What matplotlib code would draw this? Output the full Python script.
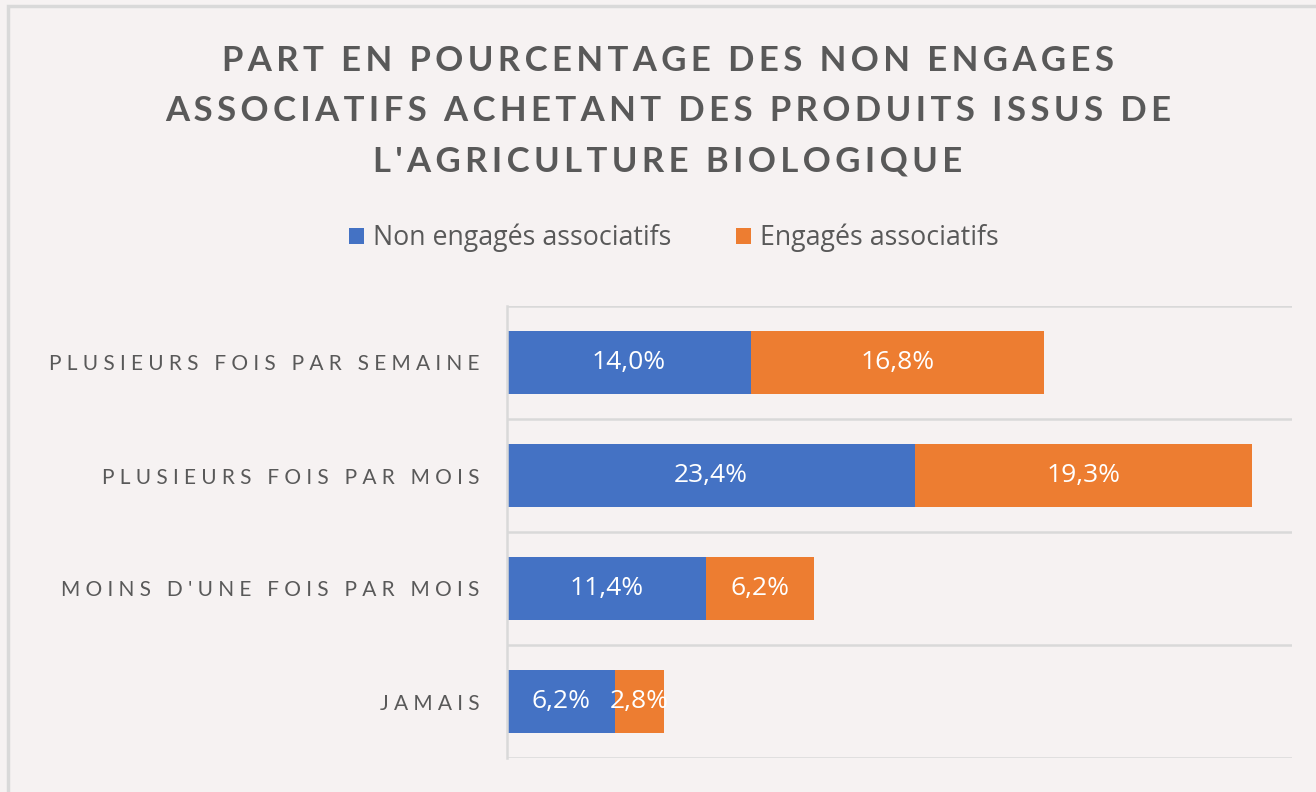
import matplotlib
matplotlib.use("Agg")
import matplotlib.pyplot as plt
import matplotlib.patches as mpatches
import numpy as np

categories = ["PLUSIEURS FOIS PAR SEMAINE", "PLUSIEURS FOIS PAR MOIS",
              "MOINS D'UNE FOIS PAR MOIS", "JAMAIS"]
non_engages = [14.0, 23.4, 11.4, 6.2]
engages = [16.8, 19.3, 6.2, 2.8]
series_names = ["Non engagés associatifs", "Engagés associatifs"]
title_lines = ["PART EN POURCENTAGE DES NON ENGAGES",
               "ASSOCIATIFS ACHETANT DES PRODUITS ISSUS DE",
               "L'AGRICULTURE BIOLOGIQUE"]

BG = "#f6f2f2"
BLUE = "#4472C4"
ORANGE = "#ED7D31"
GRID = "#d9d9d9"
TXT = "#595959"

def spaced(s, sep="\u200a"):
    return sep.join(s)

plt.rcParams['font.family'] = ['Lato', 'DejaVu Sans']

W, H = 1316, 792
fig = plt.figure(figsize=(W / 100, H / 100), dpi=100, facecolor=BG)

# outer border
fig.patches.append(mpatches.Rectangle((8 / W, -0.1), 2, 1 - 6 / H + 0.1,
                                      transform=fig.transFigure, fill=False,
                                      edgecolor=GRID, lw=2.5))

ax = fig.add_axes([507 / W, 1 - 758 / H, (1292 - 507) / W, (758 - 306) / H])
ax.set_facecolor(BG)

y = np.arange(len(categories))
h = 0.55
b1 = ax.barh(y, non_engages, height=h, color=BLUE, label=series_names[0])
b2 = ax.barh(y, engages, left=non_engages, height=h, color=ORANGE, label=series_names[1])

for bars, vals, lefts in [(b1, non_engages, [0] * 4), (b2, engages, non_engages)]:
    for v, l, yy in zip(vals, lefts, y):
        ax.text(l + v / 2, yy, f"{v:.1f}%".replace(".", ","), ha="center", va="center",
                color="white", fontsize=19, family=['Open Sans', 'DejaVu Sans'])

ax.set_xlim(0, 45)
ax.set_ylim(len(categories) - 0.5, -0.5)
ax.set_yticks(y)
ax.set_yticklabels([spaced(c, "\u2009\u2009") for c in categories], color=TXT,
                   fontsize=15)
ax.tick_params(axis="y", length=0, pad=20)
ax.set_xticks([])
ax.set_yticks(np.arange(-0.5, len(categories)), minor=True)
ax.tick_params(axis="y", which="minor", length=0)
ax.grid(True, axis="y", which="minor", color=GRID, lw=1.8)
ax.set_axisbelow(True)
for s in ["top", "right", "bottom"]:
    ax.spines[s].set_visible(False)
ax.spines["left"].set_color(GRID)
ax.spines["left"].set_linewidth(1.8)

fig.text(668 / W, 1 - 111 / H, "\n".join(spaced(t, "\u2009") for t in title_lines),
         ha="center", va="center", fontsize=25, fontweight="bold", color=TXT,
         linespacing=1.7)

leg = fig.legend(handles=[b1, b2], labels=series_names, loc="center",
                 bbox_to_anchor=(674 / W, 1 - 238 / H), ncol=2, frameon=False,
                 handlelength=0.55, handleheight=0.55, handletextpad=0.35,
                 columnspacing=2.4, prop={'family': ['Open Sans', 'DejaVu Sans'], 'size': 19.3})
for t in leg.get_texts():
    t.set_color(TXT)

fig.savefig("out.png", dpi=100, facecolor=BG)
